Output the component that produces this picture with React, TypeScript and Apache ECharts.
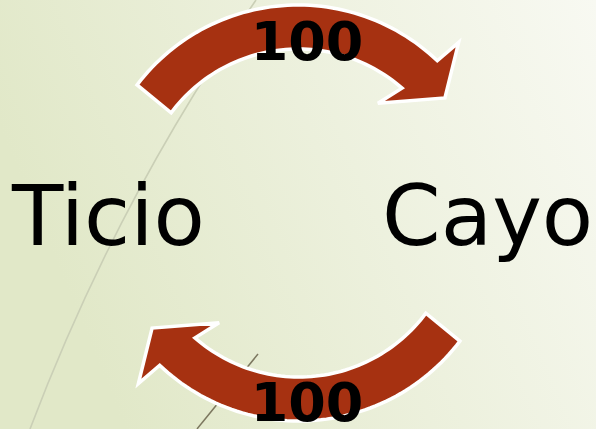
import React, { useEffect, useRef } from "react";
import * as echarts from "echarts";

// Diagram content
const nodeNames: string[] = ["Ticio", "Cayo"];
const flowValues: number[] = [100, 100]; // top: Ticio -> Cayo, bottom: Cayo -> Ticio

const W = 596;
const H = 429;

// Arrow geometry (top arrow; bottom one is its 180° rotation)
const CX = 298;
const CY = 207;
const R_OUT = 202;
const R_IN = 158;
const PIVOT: [number, number] = [298.5, 213];

function polar(rho: number, deg: number): [number, number] {
  const a = (deg * Math.PI) / 180;
  return [CX + rho * Math.cos(a), CY - rho * Math.sin(a)];
}

function topArrowPoints(): number[][] {
  const pts: number[][] = [];
  const outStart = 142.8;
  const outEnd = 46.4;
  const n = 60;
  for (let i = 0; i <= n; i++) {
    pts.push(polar(R_OUT, outStart + ((outEnd - outStart) * i) / n));
  }
  pts.push(polar(230, 45.7)); // upper barb
  pts.push(polar(183, 36.6)); // tip
  pts.push(polar(131, 52.4)); // lower barb
  const inStart = 48.8;
  const inEnd = 143.4;
  for (let i = 0; i <= n; i++) {
    pts.push(polar(R_IN, inStart + ((inEnd - inStart) * i) / n));
  }
  return pts;
}

function rotate180(pts: number[][]): number[][] {
  return pts.map(([x, y]) => [2 * PIVOT[0] - x, 2 * PIVOT[1] - y]);
}

export default function App() {
  const ref = useRef<HTMLDivElement>(null);

  useEffect(() => {
    document.body.style.margin = "0";
    if (!ref.current) return;
    const chart = echarts.init(ref.current, undefined, { renderer: "svg" });
    const top = topArrowPoints();
    const bottom = rotate180(top);
    const arrowStyle = {
      fill: "#a63111",
      stroke: "#ffffff",
      lineWidth: 3.5,
      lineJoin: "miter" as const,
    };
    const numStyle = {
      fontFamily: "DejaVu Sans",
      fontWeight: "bold",
      fontSize: 54,
      fill: "#000000",
      align: "center",
      verticalAlign: "middle",
    };
    const nameStyle = {
      fontFamily: "DejaVu Sans",
      fontSize: 84,
      fill: "#000000",
      align: "left",
      verticalAlign: "middle",
    };
    chart.setOption({
      animation: false,
      graphic: {
        elements: [
          {
            type: "rect",
            shape: { x: 0, y: 0, width: W, height: H },
            style: {
              fill: new echarts.graphic.LinearGradient(0, 0.3, 1, 0, [
                { offset: 0, color: "#e1e8c8" },
                { offset: 1, color: "#f8f9f2" },
              ]),
            },
            silent: true,
            z: 0,
          },
          {
            type: "bezierCurve",
            shape: { x1: 256, y1: 0, x2: 30, y2: 429, cpx1: 118, cpy1: 197 },
            style: { stroke: "#cacfb6", lineWidth: 1.6, fill: "none" },
            z: 1,
          },
          {
            type: "line",
            shape: { x1: 258, y1: 354, x2: 197, y2: 429 },
            style: { stroke: "#7c775f", lineWidth: 1.5 },
            z: 1,
          },
          { type: "polygon", shape: { points: top }, style: arrowStyle, z: 2 },
          { type: "polygon", shape: { points: bottom }, style: arrowStyle, z: 2 },
          {
            type: "text",
            x: 307,
            y: 41,
            style: { ...numStyle, text: String(flowValues[0]) },
            z: 3,
          },
          {
            type: "text",
            x: 307,
            y: 402,
            style: { ...numStyle, text: String(flowValues[1]) },
            z: 3,
          },
          {
            type: "text",
            x: 12,
            y: 216,
            style: { ...nameStyle, text: nodeNames[0] },
            z: 3,
          },
          {
            type: "text",
            x: 382,
            y: 216,
            style: { ...nameStyle, text: nodeNames[1] },
            z: 3,
          },
        ],
      },
    });
    return () => chart.dispose();
  }, []);

  return (
    <div
      ref={ref}
      style={{ width: W, height: H, position: "absolute", left: 0, top: 0 }}
    />
  );
}
